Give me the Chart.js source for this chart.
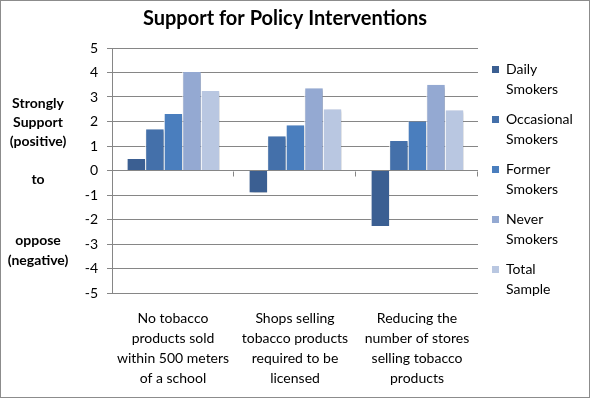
<!DOCTYPE html>
<html><head><meta charset="utf-8">
<script src="https://cdn.jsdelivr.net/npm/chart.js@4/dist/chart.umd.min.js"></script>
<style>html,body{margin:0;padding:0;background:#fff}#wrap{width:592px;height:399px;position:relative}</style>
</head><body><div id="wrap"><canvas id="c" width="592" height="399"></canvas></div>
<script>
const categories = [
  ["No tobacco", "products sold", "within 500 meters", "of a school"],
  ["Shops selling", "tobacco products", "required to be", "licensed"],
  ["Reducing the", "number of stores", "selling tobacco", "products"]
];
const seriesNames = [["Daily","Smokers"],["Occasional","Smokers"],["Former","Smokers"],["Never","Smokers"],["Total","Sample"]];
const daily = [0.47, -0.9, -2.27];
const occasional = [1.68, 1.4, 1.2];
const former = [2.31, 1.85, 2.0];
const never = [4.02, 3.36, 3.5];
const total = [3.24, 2.5, 2.46];
const colors = ["#3B5F92", "#4470AA", "#4A7EBE", "#94A9D2", "#B9C7E1"];
const yTicks = [-5,-4,-3,-2,-1,0,1,2,3,4,5];
const title = "Support for Policy Interventions";
const yNote = [["Strongly",103],["Support",122],["(positive)",141],["to",179],["oppose",240],["(negative)",260]];

const FONT = "Lato, 'Open Sans', sans-serif";
const seriesData = [daily, occasional, former, never, total];

const deco = {
  id: 'deco',
  beforeDatasetsDraw(chart) {
    const ctx = chart.ctx;
    ctx.save();
    ctx.shadowColor = 'rgba(0,0,0,0.35)';
    ctx.shadowBlur = 3;
    ctx.shadowOffsetX = 2;
    ctx.shadowOffsetY = 2;
  },
  afterDatasetsDraw(chart) {
    chart.ctx.restore();
    const ctx = chart.ctx;
    const x = chart.scales.x, y = chart.scales.y;
    const y0 = Math.round(y.getPixelForValue(0)) + 0.5;
    ctx.save();
    ctx.strokeStyle = '#868686';
    ctx.lineWidth = 1;
    ctx.beginPath();
    for (let i = 1; i <= categories.length; i++) {
      const px = Math.round(x.left + (x.right - x.left) * i / categories.length) - 0.5;
      ctx.moveTo(px, y0); ctx.lineTo(px, y0 + 5);
    }
    ctx.stroke();
    ctx.restore();
  },
  afterDraw(chart) {
    const ctx = chart.ctx;
    ctx.save();
    ctx.strokeStyle = '#8c8c8c';
    ctx.lineWidth = 1;
    ctx.strokeRect(0.5, 0.5, 589, 397);
    ctx.fillStyle = '#000';
    ctx.font = "bold 20px " + FONT;
    ctx.textAlign = 'center';
    ctx.textBaseline = 'middle';
    ctx.fillText(title, 285, 19);
    ctx.font = "bold 14px " + FONT;
    yNote.forEach(([t, py]) => ctx.fillText(t, 38, py));
    ctx.font = "14px " + FONT;
    ctx.textAlign = 'left';
    seriesNames.forEach((lines, i) => {
      const top = 69 + i * 50;
      ctx.fillStyle = colors[i];
      ctx.fillRect(492, top - 3, 7, 7);
      ctx.fillStyle = '#000';
      ctx.fillText(lines[0], 506, top);
      ctx.fillText(lines[1], 506, top + 20);
    });
    ctx.restore();
  }
};

new Chart(document.getElementById('c'), {
  type: 'bar',
  data: {
    labels: categories,
    datasets: seriesData.map((d, i) => ({
      label: seriesNames[i].join(' '),
      data: d,
      backgroundColor: colors[i],
      borderColor: '#ffffff',
      borderWidth: { left: 1, right: 0, top: 0, bottom: 0 },
      borderSkipped: false,
      barPercentage: 1,
      categoryPercentage: 0.76
    }))
  },
  options: {
    responsive: false,
    animation: false,
    devicePixelRatio: 1,
    layout: { padding: { left: 0, right: 114, top: 48, bottom: 0 } },
    plugins: { legend: { display: false }, title: { display: false }, tooltip: { enabled: false } },
    scales: {
      x: {
        grid: { display: false, drawTicks: false },
        border: { display: false },
        ticks: { color: '#000', font: { family: FONT, size: 14, lineHeight: 1.42 }, padding: 16, maxRotation: 0, autoSkip: false },
        afterFit(s) { s.height = 106; }
      },
      y: {
        min: -5, max: 5,
        afterBuildTicks(s) { s.ticks = yTicks.map(v => ({ value: v })); },
        grid: { color: '#868686', lineWidth: 1, tickLength: 5, drawTicks: true },
        border: { display: true, color: '#868686' },
        ticks: { color: '#000', font: { family: FONT, size: 14 }, padding: 9 },
        afterFit(s) { s.width = 112; }
      }
    }
  },
  plugins: [deco]
});
</script></body></html>
